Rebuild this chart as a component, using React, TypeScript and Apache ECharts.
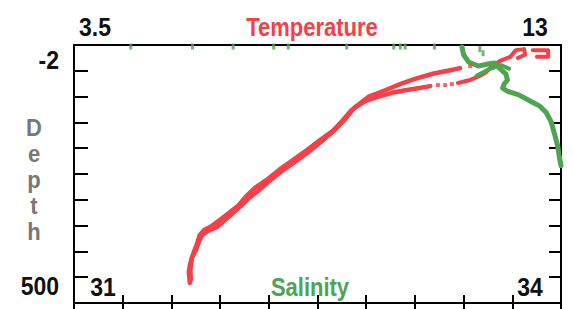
import React, { useEffect, useRef } from "react";
import * as echarts from "echarts";

// Axis ranges (tick labels are the range ends)
const tempRange = [3.5, 13];
const salRange = [31, 34];
const depthRange = [-2, 500];
const tempTickLabels = ["3.5", "13"];
const salTickLabels = ["31", "34"];
const depthTickLabels = ["-2", "500"];
const depthTitle = ["D", "e", "p", "t", "h"];

// Temperature profile [temperature, depth]
const tempUpper = [
  [5.76, 461], [5.74, 440], [5.76, 426], [5.8, 412], [5.88, 397], [5.94, 380], [6.0, 368],
  [6.11, 360], [6.29, 352], [6.43, 340], [6.58, 327], [6.76, 311], [6.91, 296],
  [7.09, 282], [7.28, 265], [7.56, 243], [7.83, 224], [8.1, 204], [8.34, 185],
  [8.61, 161], [8.79, 142], [8.98, 119], [9.24, 99], [9.57, 86], [9.86, 74],
  [10.15, 64], [10.5, 54], [10.84, 47], [11.03, 43],
];
const tempLowerNear = [
  [12.01, 21], [11.81, 29], [11.65, 39], [11.54, 51], [11.42, 58], [11.23, 66], [10.99, 72],
];
const tempLowerDeep = [
  [10.45, 78], [10.21, 82], [9.96, 86], [9.7, 91], [9.43, 99], [9.18, 107], [8.92, 124],
  [8.73, 146], [8.55, 165], [8.3, 183], [8.05, 202], [7.77, 222], [7.5, 241], [7.25, 261],
  [7.03, 276], [6.86, 292], [6.7, 311], [6.52, 325], [6.35, 338], [6.19, 350], [6.04, 358],
  [5.95, 368], [5.9, 385], [5.84, 400], [5.8, 412], [5.77, 436], [5.78, 455],
];
const tempDots = [[11.23, 39], [10.87, 74], [10.74, 76], [10.6, 76]];
const tempSurfaceA = [[12.01, 21], [12.12, 8], [12.28, 6], [12.3, 17], [12.16, 23]];
const tempSurfaceB = [[12.45, 8], [12.75, 8], [12.75, 21], [12.53, 21]];

// Salinity profile [salinity, depth]
const salMain = [
  [33.39, 2], [33.4, 17], [33.43, 31], [33.49, 39], [33.55, 35], [33.59, 33], [33.62, 43],
  [33.66, 54], [33.67, 66], [33.65, 74], [33.64, 82], [33.67, 88], [33.74, 95], [33.81, 107],
  [33.87, 117], [33.91, 130], [33.94, 148], [33.96, 171], [33.98, 195], [33.99, 216], [34.0, 233],
];
const salCross = [[33.48, 58], [33.55, 46], [33.63, 37], [33.68, 44]];
const salSurface = [
  [31.35, 1], [31.73, 1], [31.98, 1], [32.23, 1], [32.32, 1], [32.68, 1], [32.97, 1],
  [33.01, 1], [33.04, 1], [33.22, 1], [33.5, 6], [33.52, 14],
];

const RED = "#f5404a";
const GREEN = "#4ea450";

export default function App() {
  const ref = useRef<HTMLDivElement>(null);
  useEffect(() => {
    if (!ref.current) return;
    const chart = echarts.init(ref.current, undefined, { renderer: "svg" });
    const L = 74, T = 45, W = 487, H = 258;
    const numFont = "bold 23px 'Liberation Sans', Arial, sans-serif";
    const titleFont = "bold 22px 'Liberation Sans', Arial, sans-serif";
    const hidden = {
      axisLine: { show: false }, axisTick: { show: false },
      axisLabel: { show: false }, splitLine: { show: false },
    };
    const tickAxis = (pos: string, len: number) => ({
      type: "value", position: pos, min: 0, max: 10, interval: 1,
      axisLine: { show: false },
      axisTick: { show: true, inside: true, length: len, lineStyle: { color: "#000", width: 2 } },
      axisLabel: { show: false }, splitLine: { show: false },
    });
    const txt = (text: string, x: number, y: number, color: string, align: string, font = numFont, sy = 1.1) => ({
      type: "text", x, y, scaleY: sy, silent: true,
      style: { text, fill: color, font, align, textAlign: align, verticalAlign: "middle", textVerticalAlign: "middle" },
    });
    const line = (data: number[][], color: string, xi: number, w = 4.5) => ({
      type: "line", data, xAxisIndex: xi, yAxisIndex: 0, symbol: "none",
      lineStyle: { color, width: w, join: "round", cap: "round" }, z: 3,
    });
    const graphics: any[] = [
      txt(tempTickLabels[0], 95, 27, "#111", "center"),
      txt("Temperature", 312, 27, RED, "center", titleFont, 1.15),
      txt(tempTickLabels[1], 535, 27, "#111", "center"),
      txt(depthTickLabels[0], 59, 60, "#111", "right"),
      txt(depthTickLabels[1], 59, 286, "#111", "right"),
      txt(salTickLabels[0], 103, 287, "#111", "center"),
      txt("Salinity", 310, 287, GREEN, "center", titleFont, 1.15),
      txt(salTickLabels[1], 530, 287, "#111", "center"),
    ];
    depthTitle.forEach((ch, i) => {
      graphics.push(txt(ch, 34, 128 + i * 26, "#777", "center", titleFont, 1.1));
    });
    chart.setOption({
      animation: false,
      backgroundColor: "#fff",
      grid: { left: L, top: T, width: W, height: H, show: true, borderColor: "#000", borderWidth: 2, backgroundColor: "transparent" },
      xAxis: [
        { type: "value", position: "top", min: tempRange[0], max: tempRange[1], ...hidden },
        { type: "value", position: "bottom", min: salRange[0], max: salRange[1], ...hidden },
        tickAxis("top", 9),
        tickAxis("bottom", 8),
      ],
      yAxis: [
        { type: "value", inverse: true, min: depthRange[0], max: depthRange[1], ...hidden },
        tickAxis("left", 14),
        tickAxis("right", 12),
      ],
      series: [
        line(tempUpper, RED, 0),
        line(tempLowerNear, RED, 0, 4),
        line(tempLowerDeep, RED, 0),
        line(tempSurfaceA, RED, 0, 4),
        line(tempSurfaceB, RED, 0, 4),
        { type: "scatter", data: tempDots, xAxisIndex: 0, yAxisIndex: 0, symbol: "rect", symbolSize: 4, itemStyle: { color: RED }, z: 3 },
        line(salMain, GREEN, 1, 5),
        line(salCross, GREEN, 1, 4),
        { type: "scatter", data: salSurface, xAxisIndex: 1, yAxisIndex: 0, symbol: "rect", symbolSize: [3, 6], itemStyle: { color: GREEN }, z: 3 },
      ],
      graphic: graphics,
    });
    return () => chart.dispose();
  }, []);
  return <div ref={ref} style={{ position: "fixed", left: 0, top: 0, width: 573, height: 309 }} />;
}
